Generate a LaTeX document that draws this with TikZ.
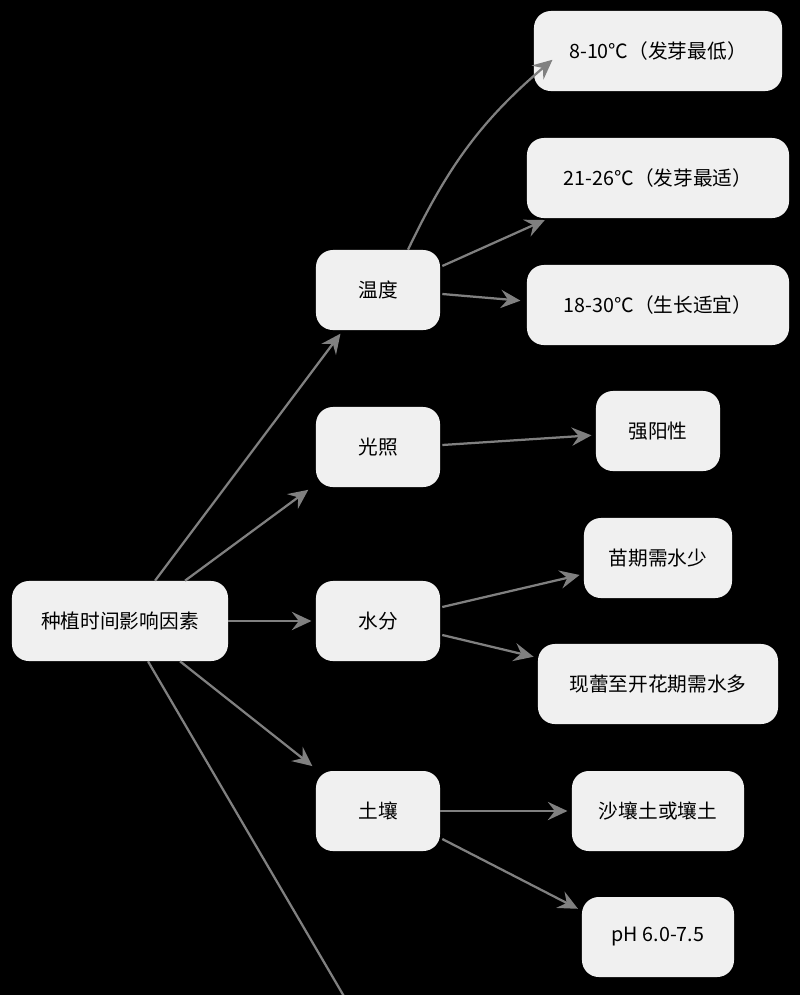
\documentclass[tikz,border=0pt]{standalone}
\usepackage{fontspec}
\setmainfont{Noto Sans CJK SC}
\usetikzlibrary{positioning}
\usetikzlibrary{calc}
\usetikzlibrary{arrows.meta}
\tikzset{>={Stealth[length=14pt,width=13pt,inset=5pt]}}
\tikzstyle{bnode}=[black,fill=black!6,rounded corners=12pt,minimum height=2cm,inner sep=0pt,font=\fontsize{14}{17}\selectfont]
\tikzstyle{tarr}=[->,line width=1.6pt,color=black!50,shorten >=3pt]

\begin{document}
\begin{tikzpicture}[x=0.025cm,y=-0.025cm]
	\fill[black] (0,0) rectangle (800,995);
	\useasboundingbox (0,0) rectangle (800,995);

	% root and first level
	\node[bnode,minimum width=5.4cm] (root) at (120,621) {种植时间影响因素};
	\node[bnode,minimum width=3.1cm] (wendu) at (378,290) {温度};
	\node[bnode,minimum width=3.1cm] (guang) at (378,447) {光照};
	\node[bnode,minimum width=3.1cm] (shui) at (378,621) {水分};
	\node[bnode,minimum width=3.1cm] (tu) at (378,811) {土壤};
	\coordinate (down) at (352,1010);

	% leaves
	\node[bnode,minimum width=6.2cm] (t1) at (658,51) {8-10℃（发芽最低）};
	\node[bnode,minimum width=6.55cm] (t2) at (658,178) {21-26℃（发芽最适）};
	\node[bnode,minimum width=6.55cm] (t3) at (658,305) {18-30℃（生长适宜）};
	\node[bnode,minimum width=3.1cm] (g1) at (658,431) {强阳性};
	\node[bnode,minimum width=3.7cm] (s1) at (658,558) {苗期需水少};
	\node[bnode,minimum width=6cm] (s2) at (658,684) {现蕾至开花期需水多};
	\node[bnode,minimum width=4.3cm] (u1) at (658,811) {沙壤土或壤土};
	\node[bnode,minimum width=3.8cm] (u2) at (658,937) {pH 6.0-7.5};

	\draw[tarr] ($(root.north)+(35,0)$) -- ($(wendu.south)+(-35,0)$);
	\draw[tarr] ($(root.north)+(65,0)$) -- ($(guang.south west)+(-4,0)$);
	\draw[tarr] (root) -- (shui);
	\draw[tarr] ($(root.south)+(60,0)$) -- ($(tu.north west)+(0,-2)$);
	\draw[line width=1.6pt,color=black!50] ($(root.south)+(28,0)$) -- (down);
	\draw[tarr] ($(wendu.north)+(30,0)$) to[bend left=12] ($(t1.west)+(22,6)$);
	\draw[tarr] ($(wendu.east)+(2,-24)$) -- ($(t2.south west)+(22,0)$);
	\draw[tarr] ($(wendu.east)+(2,4)$) -- ($(t3.west)+(-2,-4)$);
	\draw[tarr] ($(guang.east)+(2,-2)$) -- (g1);
	\draw[tarr] ($(shui.east)+(2,-14)$) -- ($(s1.west)+(0,16)$);
	\draw[tarr] ($(shui.east)+(2,14)$) -- ($(s2.north west)+(0,14)$);
	\draw[tarr] (tu) -- (u1);
	\draw[tarr] ($(tu.east)+(2,28)$) -- ($(u2.north west)+(0,14)$);
\end{tikzpicture}
\end{document}
